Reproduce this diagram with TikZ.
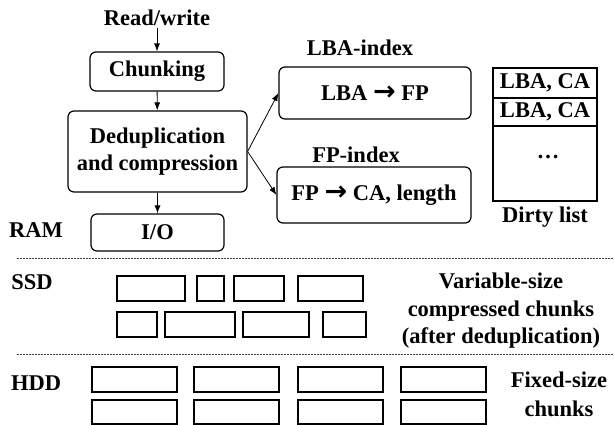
\documentclass[tikz,border=0pt]{standalone}
\usepackage{fontspec}
\setmainfont{Liberation Serif}
\newfontfamily\arrowfont{DejaVu Sans}
\usetikzlibrary{arrows.meta}
\newcommand{\maparrow}{{\arrowfont\bfseries\fontsize{27}{27}\selectfont →}}
\tikzset{
  txt/.style={font=\fontsize{22.5}{27.5}\selectfont\bfseries, inner sep=2pt, align=center},
  stage/.style={txt, draw, rounded corners=6pt, line width=1.2pt},
  cell/.style={txt, draw, line width=1.2pt, minimum width=104pt, inner sep=0pt},
  chunkbox/.style={draw, line width=2pt},
  flow/.style={-{Latex[length=8pt,width=6pt]}, line width=0.8pt},
  tier/.style={dash pattern=on 2pt off 1pt, line width=0.7pt, black!75}
}

\begin{document}
\begin{tikzpicture}[x=1pt, y=-1pt]
    \useasboundingbox (0,0) rectangle (614,425);

    % Pipeline
    \node[txt] (rw) at (157,18) {Read/write};
    \node[stage, minimum width=134pt, minimum height=39pt] (chunk) at (157,71.5) {Chunking};
    \node[stage, minimum width=179pt, minimum height=81pt] (dedup) at (157.5,151.5) {Deduplication\\and compression};
    \node[stage, minimum width=133pt, minimum height=37pt] (io) at (157.5,232.5) {I/O};
    \node[txt] (ram) at (36,230) {RAM};

    % Indexes
    \node[txt] (lbaidx) at (360,48) {LBA-index};
    \node[stage, minimum width=192pt, minimum height=52pt] (lba) at (375,93) {LBA \maparrow\ FP};
    \node[txt] (fpidx) at (356,155) {FP-index};
    \node[stage, minimum width=194pt, minimum height=56pt] (fp) at (374,195) {FP \maparrow\ CA, length};

    % Dirty list
    \node[cell, minimum height=30pt] (d1) at (545,83) {LBA, CA};
    \node[cell, minimum height=28pt] (d2) at (545,112) {LBA, CA};
    \node[cell, minimum height=75pt] (d3) at (545,163.5) {};
    \node[txt] (dots) at (548,157) {…};
    \node[txt] (dirty) at (545,217) {Dirty list};

    % Arrows
    \draw[flow] (rw) -- (chunk);
    \draw[flow] (chunk) -- (dedup);
    \draw[flow] (dedup) -- (io);
    \draw[flow] (dedup.east) -- (lba.west);
    \draw[flow] (dedup.east) -- (fp.west);

    % Tiers
    \coordinate (t1a) at (17,258);
    \coordinate (t1b) at (613,258);
    \coordinate (t2a) at (17,354);
    \coordinate (t2b) at (613,354);
    \draw[tier] (t1a) -- (t1b);
    \draw[tier] (t2a) -- (t2b);

    \node[txt] (ssd) at (32,282) {SSD};
    \node[txt] (hdd) at (36,383) {HDD};

    % SSD chunks
    \foreach \a/\b in {117/185, 197/224, 234/284, 298/363}
        \draw[chunkbox] (\a,276) rectangle (\b,301);
    \foreach \a/\b in {117/157, 165/235, 243/309, 323/366}
        \draw[chunkbox] (\a,312) rectangle (\b,337);
    \node[txt] (vartxt) at (501,311) {Variable-size\\compressed chunks\\(after deduplication)};

    % HDD chunks
    \foreach \a in {92, 194, 298, 401} {
        \draw[chunkbox] (\a,367) rectangle (\a+85,392);
        \draw[chunkbox] (\a,400) rectangle (\a+85,424);
    }
    \node[txt, font=\fontsize{22.5}{29}\selectfont\bfseries] (fixtxt) at (559,394.5) {Fixed-size\\chunks};

\end{tikzpicture}
\end{document}
